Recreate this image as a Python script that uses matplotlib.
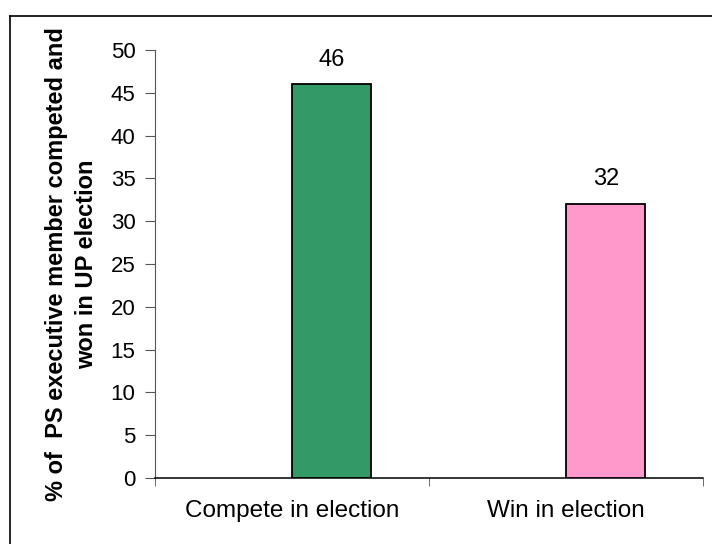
import matplotlib.pyplot as plt
from matplotlib.lines import Line2D

categories = ["Compete in election", "Win in election"]
values = [46, 32]
colors = ["#339966", "#ff99cc"]

plt.rcParams['font.family'] = ['Liberation Sans', 'DejaVu Sans']

fig = plt.figure(figsize=(7.12, 5.44), dpi=100)
ax = fig.add_axes([155 / 712, 1 - 478 / 544, 548 / 712, 428 / 544])

x = list(range(len(categories)))
bars = ax.bar(x, values, width=0.29, align='edge', color=colors,
              edgecolor='black', linewidth=1.3, zorder=3)
for b, v in zip(bars, values):
    ax.text(b.get_x() + b.get_width() / 2, v + 1.6, str(v),
            ha='center', va='bottom', fontsize=17)

ax.set_xlim(-0.5, len(categories) - 0.5)
ax.set_ylim(0, 50)
ax.set_yticks(range(0, 51, 5))
ax.tick_params(axis='y', labelsize=16, length=7, color='#555555', pad=7)

ax.set_xticks(x)
ax.set_xticklabels(categories, fontsize=17.5)
ax.tick_params(axis='x', length=0, pad=16)
ax.set_xticks([-0.5, 0.5, 1.5], minor=True)
ax.tick_params(axis='x', which='minor', length=6, color='#555555')

for s in ['top', 'right']:
    ax.spines[s].set_visible(False)
ax.spines['left'].set_color('#555555')
ax.spines['bottom'].set_color('black')
ax.spines['bottom'].set_linewidth(1.1)

ax.set_ylabel("% of  PS executive member competed and\nwon in UP election",
              fontsize=17, fontweight='bold', linespacing=1.4, labelpad=9)

# outer frame (only left and top edges fall inside the picture)
fig.add_artist(Line2D([10 / 712, 10 / 712], [0, 1 - 16 / 544],
                      transform=fig.transFigure, color='black', lw=1.2))
fig.add_artist(Line2D([10 / 712, 1], [1 - 16 / 544, 1 - 16 / 544],
                      transform=fig.transFigure, color='black', lw=1.2))

fig.savefig("out.png", dpi=100)
